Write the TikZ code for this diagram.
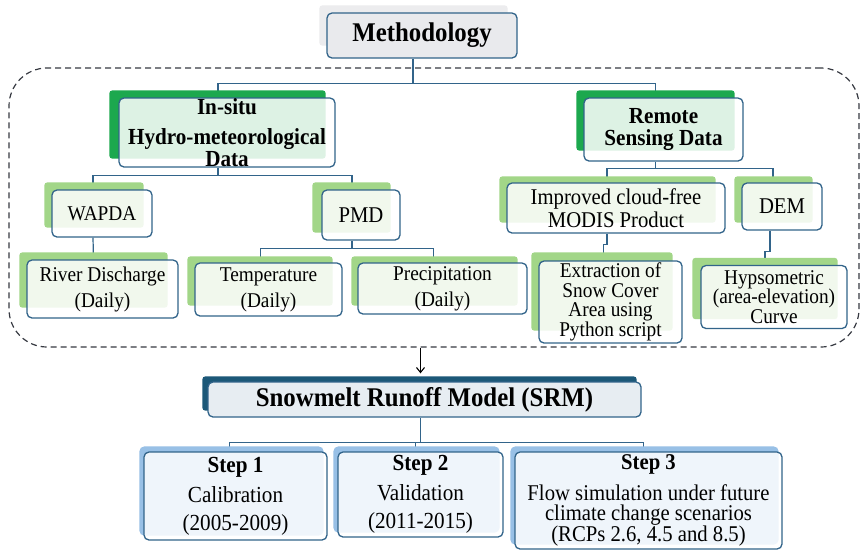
\documentclass[tikz,border=0pt]{standalone}
\usepackage{fontspec}
\setmainfont[FakeStretch=0.92]{Liberation Serif}
\usetikzlibrary{arrows.meta}
\definecolor{bordc}{RGB}{50,100,138}
\definecolor{dkgreen}{RGB}{28,168,78}
\definecolor{ltgreen}{RGB}{162,214,136}
\definecolor{ltblue}{RGB}{152,192,230}
\definecolor{dkteal}{RGB}{28,88,120}
\definecolor{methfill}{RGB}{233,234,237}
\definecolor{methshadow}{RGB}{236,236,238}
\definecolor{srmfill}{RGB}{231,237,242}
\definecolor{dashc}{RGB}{55,58,66}
\pgfdeclarelayer{bgl}
\pgfdeclarelayer{lines}
\pgfdeclarelayer{shadows}
\pgfsetlayers{bgl,lines,shadows,main}
\begin{document}
\begin{tikzpicture}[x=1pt,y=-1pt,
  box/.style={draw=bordc,line width=1.3pt,rounded corners=5pt,fill=white,fill opacity=0.85,text opacity=1,inner sep=0pt,align=center,text=black},
  conn/.style={draw=bordc,line width=1.2pt},
  rg/.style={font=\fontsize{21}{26}\selectfont},
  tight/.style={font=\fontsize{21}{19.5}\selectfont},
  hd/.style={font=\bfseries\fontsize{23}{22}\selectfont},
  stepf/.style={font=\fontsize{23}{23}\selectfont}]
\useasboundingbox (0,0) rectangle (861,550);
\begin{pgfonlayer}{bgl}
\fill[white] (0,0) rectangle (861,550);
\end{pgfonlayer}

% container
\node[draw=dashc,dash pattern=on 6pt off 4pt,line width=1.2pt,rounded corners=38pt,minimum width=850pt,minimum height=279pt,inner sep=0pt] (grp) at (434,207.5) {};

% boxes
\node[box,fill=methfill,fill opacity=1,minimum width=190pt,minimum height=45pt,font=\bfseries\fontsize{27}{27}\selectfont] (meth) at (422,35.5) {Methodology};
\node[box,hd,minimum width=216pt,minimum height=69pt] (insitu) at (227,132.5) {In-situ\\[8pt]Hydro-meteorological\\Data};
\node[box,hd,minimum width=159pt,minimum height=63pt] (remote) at (663.5,129.5) {Remote\\Sensing Data};
\node[box,font=\fontsize{21}{21}\selectfont,minimum width=100pt,minimum height=47pt] (wapda) at (102,213.5) {WAPDA};
\node[box,font=\fontsize{22.5}{22.5}\selectfont,minimum width=78pt,minimum height=50pt] (pmd) at (361,215) {PMD};
\node[box,font=\fontsize{22.5}{23}\selectfont,minimum width=218pt,minimum height=50pt] (modis) at (616,208) {Improved cloud-free\\MODIS Product};
\node[box,font=\fontsize{22.5}{22.5}\selectfont,minimum width=80pt,minimum height=47pt] (dem) at (782,206.5) {DEM};
\node[box,rg,minimum width=151pt,minimum height=58pt] (river) at (102.5,289) {River Discharge\\(Daily)};
\node[box,rg,minimum width=147pt,minimum height=53pt] (temp) at (268.5,289.5) {Temperature\\(Daily)};
\node[box,rg,minimum width=169pt,minimum height=51pt] (prec) at (442.5,288.5) {Precipitation\\(Daily)};
\node[box,tight,minimum width=143pt,minimum height=82pt] (extr) at (610.5,302) {Extraction of\\Snow Cover\\Area using\\Python script};
\node[box,tight,minimum width=146pt,minimum height=63pt] (hyp) at (774,297) {Hypsometric\\(area-elevation)\\Curve};
\node[box,fill=srmfill,fill opacity=1,minimum width=433pt,minimum height=35pt,font=\bfseries\fontsize{27}{27}\selectfont] (srm) at (424.5,399.5) {Snowmelt Runoff Model (SRM)};
\node[box,stepf,minimum width=183pt,minimum height=88pt] (s1) at (235.5,496) {\textbf{Step 1}\\[7pt]Calibration\\[5pt](2005-2009)};
\node[box,stepf,minimum width=165pt,minimum height=85pt] (s2) at (420.5,494.5) {\textbf{Step 2}\\[7pt]Validation\\[5pt](2011-2015)};
\node[box,font=\fontsize{22.5}{20.5}\selectfont,minimum width=267pt,minimum height=97pt] (s3) at (648.5,500.5) {\textbf{Step 3}\\[9pt]Flow simulation under future\\climate change scenarios\\(RCPs 2.6, 4.5 and 8.5)};

% shadows
\begin{pgfonlayer}{shadows}
\fill[methshadow,rounded corners=3pt] ([shift={(-7,-7)}]meth.north west) rectangle ([shift={(-10,-13)}]meth.south east);
\fill[dkgreen,rounded corners=3pt] ([shift={(-9,-7)}]insitu.north west) rectangle ([shift={(-10,-9)}]insitu.south east);
\fill[dkgreen,rounded corners=3pt] ([shift={(-7,-7)}]remote.north west) rectangle ([shift={(-9,-11)}]remote.south east);
\fill[ltgreen,rounded corners=3pt] ([shift={(-7,-7)}]wapda.north west) rectangle ([shift={(-9,-10)}]wapda.south east);
\fill[ltgreen,rounded corners=3pt] ([shift={(-9,-7)}]pmd.north west) rectangle ([shift={(-10,-8)}]pmd.south east);
\fill[ltgreen,rounded corners=3pt] ([shift={(-7,-6)}]modis.north west) rectangle ([shift={(-10,-11)}]modis.south east);
\fill[ltgreen,rounded corners=3pt] ([shift={(-7,-6)}]dem.north west) rectangle ([shift={(-10,-8)}]dem.south east);
\fill[ltgreen,rounded corners=3pt] ([shift={(-7,-7)}]river.north west) rectangle ([shift={(-11,-11)}]river.south east);
\fill[ltgreen,rounded corners=3pt] ([shift={(-7,-6)}]temp.north west) rectangle ([shift={(-10,-11)}]temp.south east);
\fill[ltgreen,rounded corners=3pt] ([shift={(-6,-6)}]prec.north west) rectangle ([shift={(-10,-9)}]prec.south east);
\fill[ltgreen,rounded corners=3pt] ([shift={(-7,-8)}]extr.north west) rectangle ([shift={(-10,-13)}]extr.south east);
\fill[ltgreen,rounded corners=3pt] ([shift={(-8,-7)}]hyp.north west) rectangle ([shift={(-10,-10)}]hyp.south east);
\fill[dkteal,rounded corners=3pt] ([shift={(-5,-5)}]srm.north west) rectangle ([shift={(-5,-7)}]srm.south east);
\fill[ltblue,rounded corners=5pt] ([shift={(-4,-5)}]s1.north west) rectangle ([shift={(-4,-5)}]s1.south east);
\fill[ltblue,rounded corners=5pt] ([shift={(-4,-5)}]s2.north west) rectangle ([shift={(-4,-5)}]s2.south east);
\fill[ltblue,rounded corners=5pt] ([shift={(-4,-5)}]s3.north west) rectangle ([shift={(-4,-5)}]s3.south east);
\end{pgfonlayer}

% connectors
\begin{pgfonlayer}{lines}
\draw[conn] ([xshift=-9pt]meth.south) -- ++(0,25) coordinate (mj);
\draw[conn] ([xshift=-9pt]insitu.north) |- (mj) -| ([xshift=-8pt]remote.north);
\draw[conn] ([xshift=-9pt]insitu.south) -- ++(0,8) coordinate (isj);
\draw[conn] ([xshift=-9pt]wapda.north) |- (isj) -| ([xshift=-9pt]pmd.north);
\draw[conn] ([xshift=-9pt]wapda.south) -- ([xshift=-9pt]river.north);
\draw[conn] ([xshift=-9pt]pmd.south) -- ++(0,8) coordinate (pmj);
\draw[conn] ([xshift=-8pt]temp.north) |- (pmj) -| ([xshift=-9pt]prec.north);
\draw[conn] ([xshift=-8pt]remote.south) -- ++(0,7) coordinate (rsj);
\draw[conn] ([xshift=-9pt]modis.north) |- (rsj) -| ([xshift=-9pt]dem.north);
\draw[conn] ([xshift=-9pt]modis.south) -- ++(0,11) -| ([xshift=-7pt]extr.north);
\draw[conn] ([xshift=-12pt]dem.south) -- ++(0,21) -| ([xshift=-9pt]hyp.north);
\draw[conn] ([xshift=-4pt]srm.south) -- ++(0,25) coordinate (sj);
\draw[conn] ([xshift=-6pt]s1.north) |- (sj) -| ([xshift=-5pt]s3.north);
\draw[conn] ([xshift=-5pt]s2.north) -- ([xshift=-5pt]s2.north |- sj);
\end{pgfonlayer}

% arrow
\draw[line width=1.1pt,black,-{Straight Barb[length=5pt,width=8pt]}] ([xshift=-4pt]srm.north |- grp.south) -- ([xshift=-4pt,yshift=8pt]srm.north);
\end{tikzpicture}
\end{document}
